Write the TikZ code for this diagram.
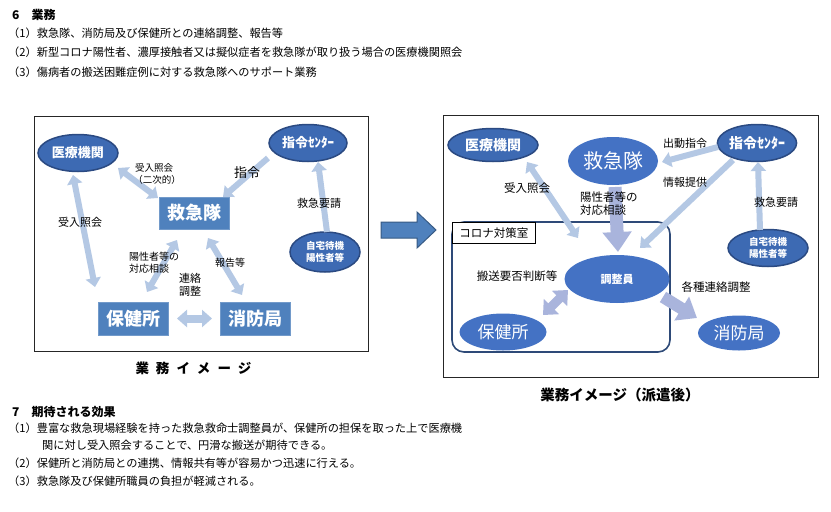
\documentclass[tikz,border=0pt]{standalone}
\usepackage{fontspec}
\newfontfamily\jp{Noto Sans CJK JP}
\usetikzlibrary{arrows.meta,shapes.geometric,calc}
\definecolor{boxblue}{HTML}{4F81BD}
\definecolor{ellblue}{HTML}{3D6AB3}
\definecolor{ellborder}{HTML}{2B4A82}
\definecolor{midblue}{HTML}{4472C4}
\definecolor{lightarr}{HTML}{B4C8E4}
\definecolor{lavarr}{HTML}{A9B4DC}
\definecolor{roomline}{HTML}{2E4A78}
\newcommand{\fs}[1]{\fontsize{#1}{#1}\selectfont}
\begin{document}
\begin{tikzpicture}[x=1pt,y=-1pt,
  darkell/.style={ellipse, fill=ellblue, draw=ellborder, line width=1.5pt, text=white, inner sep=0pt, font=\jp\bfseries\fs{13}},
  midell/.style={ellipse, fill=midblue, text=white, inner sep=0pt},
  bluebox/.style={rectangle, fill=boxblue, draw=boxblue!80!white, text=white, font=\jp\bfseries\fs{18}, minimum width=70pt, minimum height=33pt},
  lbl/.style={inner sep=0pt, font=\jp\fs{10}},
  txt/.style={anchor=west, inner sep=0pt, font=\jp\fs{11.2}},
  head/.style={anchor=west, inner sep=0pt, font=\jp\bfseries\fs{12}},
  frame/.style={draw=black!85, line width=0.9pt, fill=none, inner sep=0pt},
  larr/.style={draw=lightarr, line width=6pt, -{Triangle[length=9pt,width=15pt]}},
  ldarr/.style={draw=lightarr, line width=6pt, {Triangle[length=9pt,width=15pt]}-{Triangle[length=9pt,width=15pt]}},
  varr/.style={draw=lavarr, line width=12pt, -{Triangle[length=18pt,width=27pt]}},
  vdarr/.style={draw=lavarr, line width=9pt, {Triangle[length=12pt,width=21pt]}-{Triangle[length=12pt,width=21pt]}}
]
\useasboundingbox (0,0) rectangle (831,512);
\fill[white] (0,0) rectangle (831,512);

% ---------- top text ----------
\node[head] (h6) at (12,15) {6　業務};
\node[txt] (t1) at (8,33) {（1）救急隊、消防局及び保健所との連絡調整、報告等};
\node[txt] (t2) at (8,52) {（2）新型コロナ陽性者、濃厚接触者又は擬似症者を救急隊が取り扱う場合の医療機関照会};
\node[txt] (t3) at (8,72) {（3）傷病者の搬送困難症例に対する救急隊へのサポート業務};

% ---------- left diagram ----------
\node[frame, minimum width=334pt, minimum height=235pt, anchor=north west] (frameL) at (34,116) {};

\node[darkell, minimum width=80pt, minimum height=37pt] (iryoL) at (78,153) {医療機関};
\node[darkell, minimum width=78pt, minimum height=37pt] (shireiL) at (308,143) {指令ｾﾝﾀｰ};
\node[darkell, minimum width=70pt, minimum height=40pt, align=center, font=\jp\bfseries\fontsize{9.5}{12}\selectfont] (jitakuL) at (325,252) {自宅待機\\陽性者等};
\node[bluebox, minimum height=32pt] (kyuL) at (194,213) {救急隊};
\node[bluebox] (hokenL) at (133,318.5) {保健所};
\node[bluebox] (shoboL) at (255,318.5) {消防局};

\draw[ldarr] ($(iryoL.center)+(40,15)$) -- ($(kyuL.center)+(-36,-15)$);
\draw[ldarr] ($(iryoL.center)+(-5,22)$) -- ($(hokenL.center)+(-38,-31.5)$);
\draw[larr] ($(shireiL.center)+(-40,15)$) -- ($(kyuL.center)+(29,-16)$);
\draw[larr] ($(jitakuL.center)+(2,-20)$) -- ($(shireiL.center)+(10,19)$);
\draw[ldarr] ($(kyuL.center)+(-17,27)$) -- ($(hokenL.center)+(14,-26.5)$);
\draw[ldarr] ($(kyuL.center)+(14,25)$) -- ($(shoboL.center)+(-13,-23.5)$);
\draw[ldarr, line width=8pt, {Triangle[length=10pt,width=17pt]}-{Triangle[length=10pt,width=17pt]}] ($(hokenL.center)+(44,0)$) -- ($(shoboL.center)+(-43,0)$);

\node[lbl, font=\jp\fs{9.5}] (lq1) at (154,168) {受入照会};
\node[lbl, font=\jp\fs{9.5}] (lq2) at (157,180) {（二次的）};
\node[lbl, font=\jp\fs{13}] (lshirei) at (247,173) {指令};
\node[lbl, font=\jp\fs{11}] (lyosei) at (319,203) {救急要請};
\node[lbl, font=\jp\fs{11}] (lq3) at (80,222) {受入照会};
\node[lbl, anchor=west, align=left, font=\jp\fontsize{10}{11.5}\selectfont] (lsodan) at (129,262.5) {陽性者等の\\対応相談};
\node[lbl, align=center, font=\jp\fontsize{11}{13}\selectfont] (lrenraku) at (190,284.5) {連絡\\調整};
\node[lbl] (lhokoku) at (230,263) {報告等};
\node[lbl, font=\jp\bfseries\fs{13.5}] (capL) at (193.5,368) {業\hspace{7pt}務\hspace{7pt}イ\hspace{7pt}メ\hspace{7pt}ー\hspace{7pt}ジ};

% ---------- big arrow ----------
\filldraw[fill=boxblue, draw=boxblue!70!black, line width=1pt] (381,222) -- (417,222) -- (417,212) -- (436,230) -- (417,248) -- (417,238) -- (381,238) -- cycle;

% ---------- right diagram ----------
\node[frame, minimum width=375pt, minimum height=262pt, anchor=north west] (frameR) at (443,115) {};
\node[draw=roomline, line width=1.6pt, rounded corners=12pt, minimum width=218pt, minimum height=130pt, inner sep=0pt] (room) at (561,287) {};

\node[darkell, minimum width=90pt, minimum height=33pt, font=\jp\bfseries\fs{14}] (iryoR) at (493,145) {医療機関};
\node[midell, minimum width=90pt, minimum height=48pt, font=\jp\fs{20}] (kyuR) at (613,161) {救急隊};
\node[darkell, minimum width=77pt, minimum height=37pt, font=\jp\bfseries\fs{14}] (shireiR) at (757,143) {指令ｾﾝﾀｰ};
\node[darkell, minimum width=80pt, minimum height=37pt, align=center, font=\jp\bfseries\fontsize{9.5}{12}\selectfont] (jitakuR) at (768,248) {自宅待機\\陽性者等};
\node[midell, minimum width=105pt, minimum height=48pt, font=\jp\bfseries\fs{11}] (choseiR) at (617,279) {調整員};
\node[midell, minimum width=87pt, minimum height=37pt, font=\jp\fs{17}] (hokenR) at (503,332) {保健所};
\node[midell, minimum width=82pt, minimum height=35pt, font=\jp\fs{17}] (shoboR) at (739,333) {消防局};

\draw[ldarr] ($(iryoR.center)+(34,17)$) -- ($(choseiR.center)+(-39,-41)$);
\draw[larr] ($(shireiR.center)+(-39,4)$) -- ($(kyuR.center)+(49,1)$);
\draw[larr] ($(shireiR.center)+(-24,17)$) -- ($(choseiR.center)+(23,-31)$);
\draw[larr] ($(jitakuR.center)+(-8,-18)$) -- ($(shireiR.center)+(1,19)$);
\draw[varr, line width=13pt, -{Triangle[length=20pt,width=28pt]}] ($(kyuR.center)+(2,26)$) -- ($(choseiR.center)+(1,-27)$);
\draw[vdarr] ($(choseiR.center)+(-49,11)$) -- ($(hokenR.center)+(40,-17)$);
\draw[varr] ($(choseiR.center)+(46,18)$) -- ($(shoboR.center)+(-42,-15)$);

\node[draw=black, fill=white, line width=0.6pt, minimum width=83pt, minimum height=21pt, anchor=north west, inner sep=0pt, font=\jp\fs{11.5}] (roomlbl) at (452,222) {コロナ対策室};

\node[lbl, font=\jp\fs{11}] (rshutsu) at (685,143) {出動指令};
\node[lbl, font=\jp\fs{11}] (rjoho) at (685,182) {情報提供};
\node[lbl, font=\jp\fs{11.5}] (rq) at (527,188) {受入照会};
\node[lbl, anchor=west, align=left, font=\jp\fontsize{11.5}{13}\selectfont] (rsodan) at (580,203.5) {陽性者等の\\対応相談};
\node[lbl, font=\jp\fs{11}] (ryosei) at (776,202) {救急要請};
\node[lbl, font=\jp\fs{11.5}] (rhanso) at (517,276) {搬送要否判断等};
\node[lbl, font=\jp\fs{11.5}] (rkakushu) at (716,287) {各種連絡調整};
\node[lbl, font=\jp\bfseries\fs{14.5}] (capR) at (620,395) {業務イメージ（派遣後）};

% ---------- bottom text ----------
\node[head] (h7) at (12,412) {7　期待される効果};
\node[txt] (b1) at (8,428) {（1）豊富な救急現場経験を持った救急救命士調整員が、保健所の担保を取った上で医療機};
\node[txt] (b1b) at (42,445) {関に対し受入照会することで、円滑な搬送が期待できる。};
\node[txt] (b2) at (8,463) {（2）保健所と消防局との連携、情報共有等が容易かつ迅速に行える。};
\node[txt] (b3) at (8,481) {（3）救急隊及び保健所職員の負担が軽減される。};
\end{tikzpicture}
\end{document}
